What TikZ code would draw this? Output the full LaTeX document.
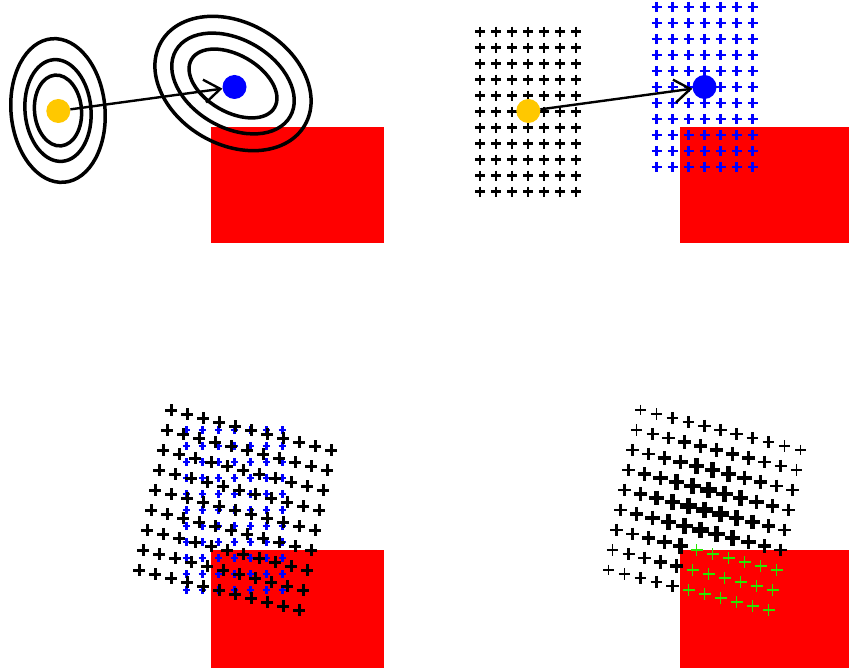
\documentclass[tikz,border=0pt]{standalone}
\usetikzlibrary{arrows.meta}
\definecolor{gold}{RGB}{255,200,0}
\definecolor{lime}{RGB}{40,230,0}
\newcommand{\plusmark}[3]{\draw[#1] (#2) ++(-#3,0) -- ++(2*#3,0) (#2) ++(0,-#3) -- ++(0,2*#3);}
\tikzset{
  region/.style={fill=red, draw=none},
  contour/.style={draw=black, line width=3.5pt},
  dot/.style={circle, fill=#1, draw=none, minimum size=24pt, inner sep=0pt},
  shiftarrow/.style={line width=2.4pt, -{Straight Barb[length=16pt,width=23pt]}}
}
\begin{document}
\begin{tikzpicture}[x=1pt, y=-1pt]
  \useasboundingbox (0,0) rectangle (849,668);

  % Target regions
  \fill[region] (211,127) rectangle (384,243);
  \fill[region] (680,127) rectangle (849,243);
  \fill[region] (211,550) rectangle (384,668);
  \fill[region] (680,550) rectangle (849,668);

  % Top left: contours round source and target
  \draw[contour, rotate around={5:(58,110.5)}] (58,110.5) ellipse [x radius=47pt, y radius=72pt];
  \draw[contour, rotate around={5:(58,110.5)}] (58,110.5) ellipse [x radius=33pt, y radius=51pt];
  \draw[contour, rotate around={5:(58,110.5)}] (58,110.5) ellipse [x radius=23.5pt, y radius=35.5pt];
  \draw[contour, rotate around={-30:(233,83.5)}] (233,83.5) ellipse [x radius=83pt, y radius=61pt];
  \draw[contour, rotate around={-30:(233,83.5)}] (233,83.5) ellipse [x radius=66pt, y radius=44pt];
  \draw[contour, rotate around={-30:(233,83.5)}] (233,83.5) ellipse [x radius=48pt, y radius=28.5pt];
  \node[dot=gold] (srcA) at (58.3,111) {};
  \node[dot=blue] (dstA) at (234.5,87) {};
  \draw[shiftarrow] (srcA) -- (dstA);

  % Top right: source grid and shifted grid
  \foreach \i in {0,...,6}
    \foreach \j in {0,...,10} {
      \plusmark{line width=2.5pt}{480+16*\i,31.7+16*\j}{5}
      \plusmark{blue, line width=2.5pt}{656.5+16*\i,7+16*\j}{5}
    }
  \node[dot=gold] (srcB) at (528.3,111) {};
  \node[dot=blue] (dstB) at (704.5,87) {};
  \draw[shiftarrow] (srcB) -- (dstB);

  % Bottom left: shifted grid and warped grid
  \foreach \i in {0,...,6}
    \foreach \j in {0,...,10} {
      \plusmark{blue, line width=2.4pt}{186.5+16*\i,430+16*\j}{3.8}
    }
  \foreach \i in {0,...,10}
    \foreach \j in {0,...,8} {
      \plusmark{line width=3pt}{171+16*\i-4*\j,410+4*\i+20*\j}{6}
    }

  % Bottom right: weighted warped grid
  \foreach \i in {0,...,10}
    \foreach \j in {0,...,8} {
      \pgfmathsetmacro{\wt}{exp(-((\i-5)^2/30+(\j-4)^2/16))}
      \pgfmathsetmacro{\lw}{0.8+4.5*\wt}
      \pgfmathsetmacro{\sz}{4.8+3.6*\wt}
      \pgfmathtruncatemacro{\ingoal}{and(\j>5,\i>4)}
      \ifnum\ingoal=1
        \plusmark{lime, line width=1.1pt}{640.5+16*\i-4*\j,410+4*\i+20*\j}{6}
      \else
        \plusmark{line width=\lw pt}{640.5+16*\i-4*\j,410+4*\i+20*\j}{\sz}
      \fi
    }
\end{tikzpicture}
\end{document}
